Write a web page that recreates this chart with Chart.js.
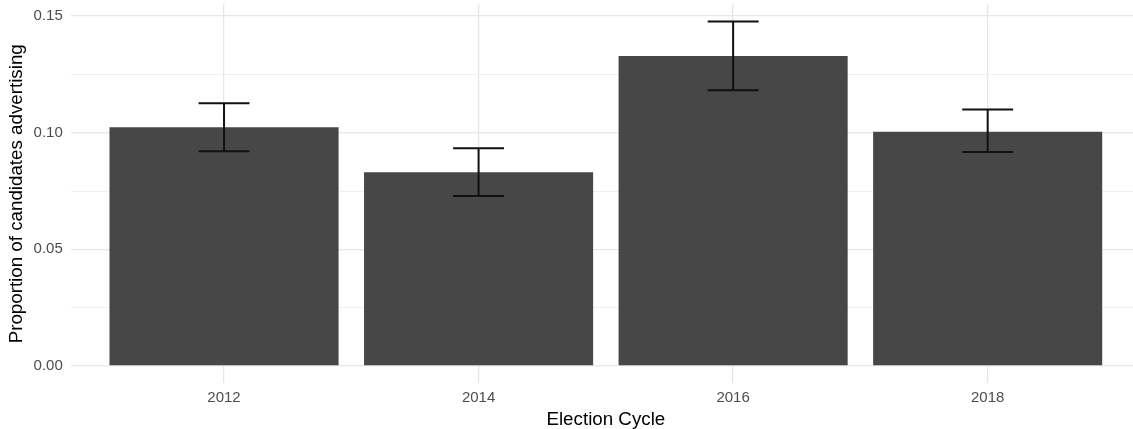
<!DOCTYPE html>
<html>
<head>
<meta charset="utf-8">
<script src="https://cdn.jsdelivr.net/npm/chart.js@4/dist/chart.umd.min.js"></script>
<style>
  html, body { margin: 0; padding: 0; background: #ffffff; overflow: hidden; width: 1133px; height: 429px; }
  canvas { display: block; }
</style>
</head>
<body>
<canvas id="chart" width="1141" height="429"></canvas>
<script>
// Share of candidates advertising per election cycle, with 95% intervals
const cycles = ['2012', '2014', '2016', '2018'];
const proportion = [0.1023, 0.0830, 0.1329, 0.1004];
const ciLower = [0.0920, 0.0729, 0.1182, 0.0917];
const ciUpper = [0.1126, 0.0933, 0.1476, 0.1099];
const yTickLabels = ['0.00', '0.05', '0.10', '0.15'];
const yMinorTicks = [0.025, 0.075, 0.125];

const yMajorTicks = yTickLabels.map(parseFloat);
const isMajor = v => yMajorTicks.some(m => Math.abs(m - v) < 1e-9);

// 5% expansion of the data range on both ends
const dataMax = Math.max(...ciUpper, ...proportion);
const pad = dataMax * 0.05;

const errorBars = {
  id: 'errorBars',
  afterDatasetsDraw(chart) {
    const { ctx, scales: { x, y } } = chart;
    ctx.save();
    ctx.strokeStyle = '#111111';
    ctx.lineWidth = 2;
    ctx.lineCap = 'butt';
    cycles.forEach((c, i) => {
      const cx = x.getPixelForValue(i + 1);
      const left = x.getPixelForValue(i + 0.9);
      const right = x.getPixelForValue(i + 1.1);
      const top = y.getPixelForValue(ciUpper[i]);
      const bottom = y.getPixelForValue(ciLower[i]);
      ctx.beginPath();
      ctx.moveTo(cx, top); ctx.lineTo(cx, bottom);
      ctx.moveTo(left, top); ctx.lineTo(right, top);
      ctx.moveTo(left, bottom); ctx.lineTo(right, bottom);
      ctx.stroke();
    });
    ctx.restore();
  }
};

// keep the plot panel exactly where the axes put it (no label overhang padding)
const noOverhang = s => { s.paddingTop = 0; s.paddingBottom = 0; s.paddingLeft = 0; s.paddingRight = 0; };

Chart.defaults.font.family = '"Liberation Sans", Arial, Helvetica, sans-serif';

new Chart(document.getElementById('chart'), {
  type: 'bar',
  data: {
    datasets: [{
      data: proportion.map((v, i) => ({ x: i + 1, y: v })),
      backgroundColor: '#474747',
      borderWidth: 0,
      categoryPercentage: 0.9,
      barPercentage: 1.0
    }]
  },
  options: {
    responsive: false,
    animation: false,
    devicePixelRatio: 1,
    layout: { padding: { top: 4.4, right: 0.6, left: 0, bottom: 0 } },
    plugins: { legend: { display: false }, tooltip: { enabled: false } },
    scales: {
      x: {
        type: 'linear',
        min: 0.4,
        max: 4.6,
        offset: false,
        afterBuildTicks: s => { s.ticks = cycles.map((c, i) => ({ value: i + 1 })); },
        afterFit: s => { s.height = 45.8; noOverhang(s); },
        border: { display: false },
        grid: { offset: false, color: '#E6E6E6', lineWidth: 1.3, drawTicks: false },
        ticks: {
          autoSkip: false,
          maxRotation: 0,
          padding: 6,
          color: '#4D4D4D',
          font: { size: 15 },
          callback: v => cycles[Math.round(v) - 1]
        },
        title: {
          display: true,
          text: 'Election Cycle',
          color: '#000000',
          font: { size: 18.75, lineHeight: 1 },
          padding: { top: 0, bottom: 0 }
        }
      },
      y: {
        min: -pad,
        max: dataMax + pad,
        afterBuildTicks: s => {
          s.ticks = [...yMajorTicks, ...yMinorTicks].sort((a, b) => a - b).map(v => ({ value: v }));
        },
        afterFit: s => { s.width = 71.3; noOverhang(s); },
        border: { display: false },
        grid: {
          drawTicks: false,
          color: c => isMajor(c.tick.value) ? '#E6E6E6' : '#F0F0F0',
          lineWidth: c => isMajor(c.tick.value) ? 1.3 : 1
        },
        ticks: {
          autoSkip: false,
          padding: 8.5,
          color: '#4D4D4D',
          font: { size: 15 },
          callback: v => yTickLabels.find(l => Math.abs(parseFloat(l) - v) < 1e-9) || ''
        },
        title: {
          display: true,
          text: 'Proportion of candidates advertising',
          color: '#000000',
          font: { size: 18.75, lineHeight: 1 },
          padding: { top: 7.6, bottom: 0 }
        }
      }
    }
  },
  plugins: [errorBars]
});
</script>
</body>
</html>
